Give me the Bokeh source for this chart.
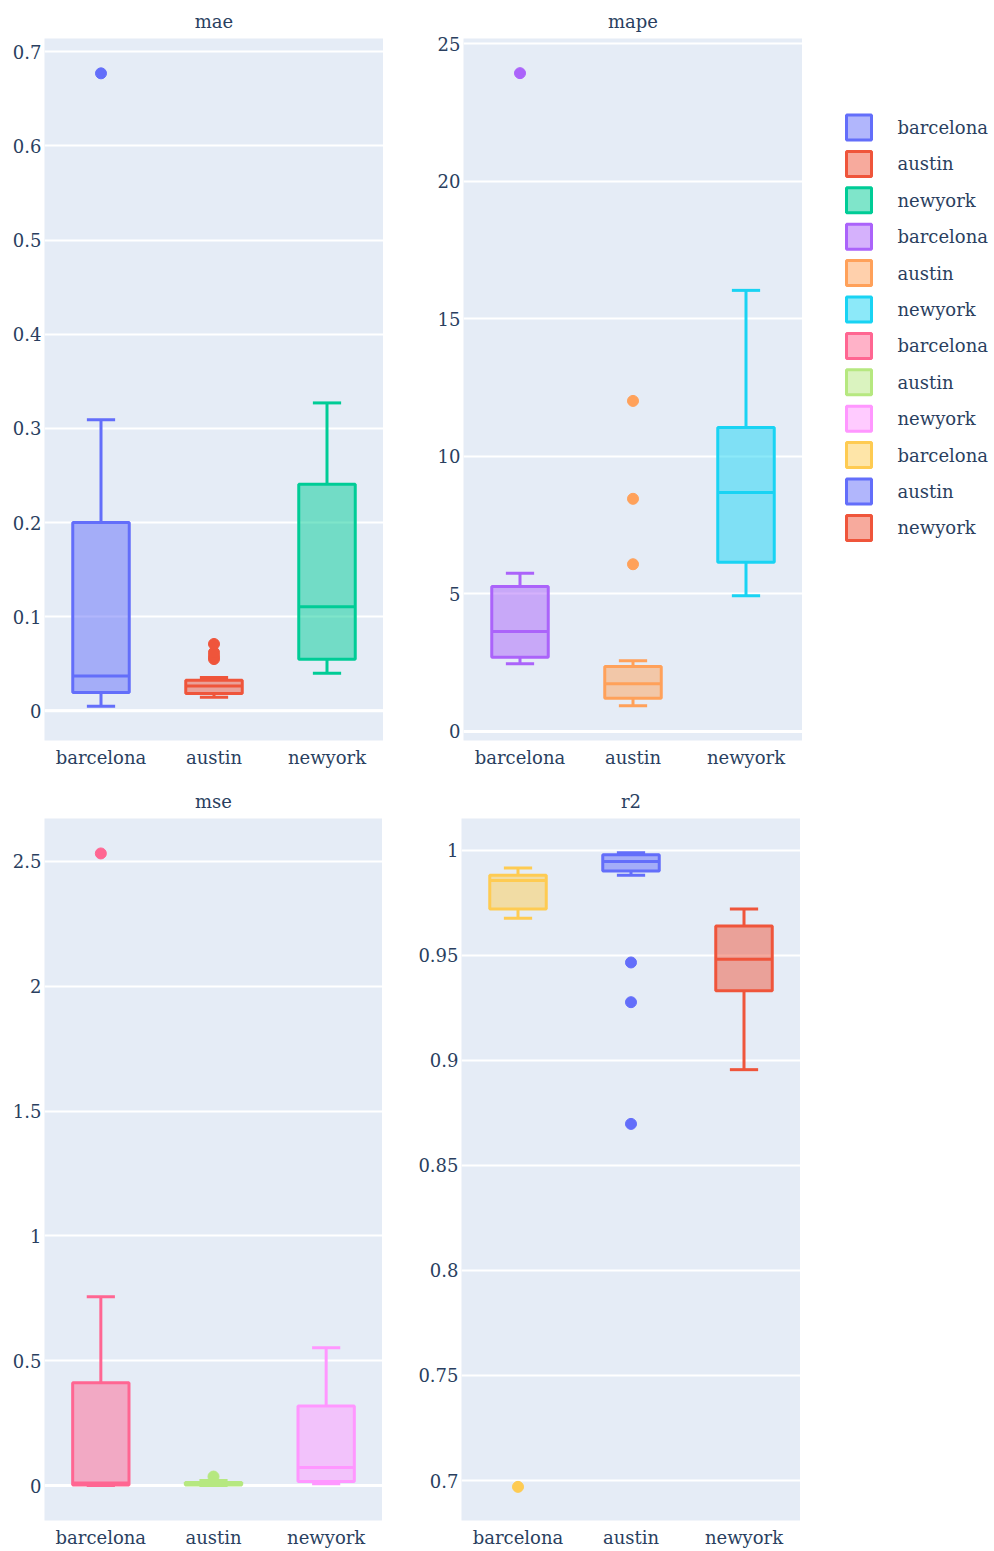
from bokeh.plotting import figure
from bokeh.models import (ColumnDataSource, FactorRange, Range1d, Span,
                          SingleIntervalTicker, NumeralTickFormatter)
from bokeh.core.properties import value
from bokeh.layouts import row, column
from bokeh.embed import file_html
from bokeh.resources import INLINE

# ---- data -----------------------------------------------------------------
cities = ["barcelona", "austin", "newyork"]

# box statistics per city: lower whisker, Q1, median, Q3, upper whisker
mae_lower = [0.005, 0.0145, 0.040]
mae_q1 = [0.0195, 0.0185, 0.0548]
mae_median = [0.037, 0.0265, 0.1106]
mae_q3 = [0.200, 0.0325, 0.2407]
mae_upper = [0.309, 0.0355, 0.327]
mae_outliers = [[0.677], [0.055, 0.058, 0.062, 0.071], []]

mape_lower = [2.46, 0.93, 4.93]
mape_q1 = [2.70, 1.21, 6.15]
mape_median = [3.63, 1.73, 8.69]
mape_q3 = [5.27, 2.36, 11.05]
mape_upper = [5.75, 2.57, 16.04]
mape_outliers = [[23.94], [6.08, 8.46, 12.02], []]

mse_lower = [0.0005, 0.0005, 0.007]
mse_q1 = [0.002, 0.002, 0.016]
mse_median = [0.010, 0.006, 0.072]
mse_q3 = [0.412, 0.012, 0.319]
mse_upper = [0.756, 0.020, 0.552]
mse_outliers = [[2.532], [0.036], []]

r2_lower = [0.9676, 0.988, 0.8955]
r2_q1 = [0.972, 0.990, 0.933]
r2_median = [0.9855, 0.9945, 0.948]
r2_q3 = [0.988, 0.9978, 0.9638]
r2_upper = [0.9914, 0.9987, 0.972]
r2_outliers = [[0.697], [0.9465, 0.9276, 0.8697], []]

mae_colors = ["#636EFA", "#EF553B", "#00CC96"]
mape_colors = ["#AB63FA", "#FFA15A", "#19D3F3"]
mse_colors = ["#FF6692", "#B6E880", "#FF97FF"]
r2_colors = ["#FECB52", "#636EFA", "#EF553B"]

# ---- styling --------------------------------------------------------------
FONT = "DejaVu Serif"
FONT_SIZE = "18px"
TEXT_COLOR = "#2a3f5f"
BG = "#E5ECF6"
BOX_W = 0.5
CAP = 0.125
LW = 3


def panel(title, lo, hi, interval, stats, outliers, colors,
          width, height, left, top, bottom, zero_line):
    lower, q1, med, q3, upper = stats
    p = figure(x_range=FactorRange(factors=cities, range_padding=0),
               y_range=Range1d(lo, hi), width=width, height=height,
               title=title, output_backend="svg", toolbar_location=None,
               min_border_left=left, min_border_right=0,
               min_border_top=top, min_border_bottom=bottom)
    p.background_fill_color = BG
    p.border_fill_color = "white"
    p.outline_line_color = None

    p.title.align = "center"
    p.title.text_font = FONT
    p.title.text_font_size = FONT_SIZE
    p.title.text_font_style = "normal"
    p.title.text_color = TEXT_COLOR
    p.title.standoff = 13

    p.xgrid.visible = False
    p.ygrid.grid_line_color = "white"
    p.ygrid.grid_line_width = 2
    p.yaxis.ticker = SingleIntervalTicker(interval=interval, num_minor_ticks=0)
    p.yaxis.formatter = NumeralTickFormatter(format="0.[00]")
    for ax in (p.xaxis[0], p.yaxis[0]):
        ax.axis_line_color = None
        ax.major_tick_line_color = None
        ax.minor_tick_line_color = None
        ax.major_tick_out = 0
        ax.major_label_text_font = FONT
        ax.major_label_text_font_size = FONT_SIZE
        ax.major_label_text_color = TEXT_COLOR
    p.yaxis.major_label_standoff = 3
    p.xaxis.major_label_standoff = 6

    if zero_line:
        p.add_layout(Span(location=0, dimension="width",
                          line_color="white", line_width=3, level="underlay"))

    src = ColumnDataSource(dict(
        x=cities, lower=lower, q1=q1, med=med, q3=q3, upper=upper,
        color=colors,
        cap0=[(c, -CAP) for c in cities], cap1=[(c, CAP) for c in cities],
        m0=[(c, -BOX_W / 2) for c in cities], m1=[(c, BOX_W / 2) for c in cities],
    ))
    # whisker stems
    p.segment(x0="x", y0="q3", x1="x", y1="upper", source=src,
              line_color="color", line_width=LW)
    p.segment(x0="x", y0="q1", x1="x", y1="lower", source=src,
              line_color="color", line_width=LW)
    # whisker caps
    p.segment(x0="cap0", y0="upper", x1="cap1", y1="upper", source=src,
              line_color="color", line_width=LW)
    p.segment(x0="cap0", y0="lower", x1="cap1", y1="lower", source=src,
              line_color="color", line_width=LW)
    # boxes
    p.vbar(x="x", bottom="q1", top="q3", width=BOX_W, source=src,
           fill_color="color", fill_alpha=0.5, line_color="color",
           line_width=LW)
    # medians
    p.segment(x0="m0", y0="med", x1="m1", y1="med", source=src,
              line_color="color", line_width=LW)
    # outliers
    ox, oy, oc = [], [], []
    for c, col, vals in zip(cities, colors, outliers):
        for v in vals:
            ox.append(c)
            oy.append(v)
            oc.append(col)
    p.scatter(x=ox, y=oy, color=oc, size=11, marker="circle")
    return p


p1 = panel("mae", -0.0315, 0.714, 0.1,
           (mae_lower, mae_q1, mae_median, mae_q3, mae_upper),
           mae_outliers, mae_colors, 383, 780, 44, 38, 40, True)
p2 = panel("mape", -0.33, 25.2, 5,
           (mape_lower, mape_q1, mape_median, mape_q3, mape_upper),
           mape_outliers, mape_colors, 419, 780, 80, 38, 40, True)
p3 = panel("mse", -0.14, 2.672, 0.5,
           (mse_lower, mse_q1, mse_median, mse_q3, mse_upper),
           mse_outliers, mse_colors, 382, 771, 44, 38, 31, True)
p4 = panel("r2", 0.681, 1.015, 0.05,
           (r2_lower, r2_q1, r2_median, r2_q3, r2_upper),
           r2_outliers, r2_colors, 418, 771, 79, 38, 31, False)

# ---- legend: one swatch + label per trace, in page-pixel units -------------
leg = figure(width=192, height=780, output_backend="svg", toolbar_location=None,
             x_range=Range1d(802, 994), y_range=Range1d(740, 38),
             min_border_left=0, min_border_right=0,
             min_border_top=38, min_border_bottom=40)
leg.axis.visible = False
leg.grid.visible = False
leg.outline_line_color = None
leg.background_fill_color = "white"
leg.border_fill_color = "white"

leg_labels = cities * 4
leg_colors = mae_colors + mape_colors + mse_colors + r2_colors
ROW0, ROW_STEP = 127, 36.4
leg_src = ColumnDataSource(dict(
    label=leg_labels, color=leg_colors,
    y=[ROW0 + ROW_STEP * i for i in range(len(leg_labels))],
))
leg.scatter(x=858.5, y="y", source=leg_src, marker="square", size=25,
            fill_color="color", fill_alpha=0.5, line_color="color",
            line_width=LW)
leg.text(x=897, y="y", text="label", source=leg_src,
         text_font=value(FONT), text_font_size=FONT_SIZE,
         text_color=TEXT_COLOR, text_baseline="middle", text_align="left")

layout = column(row(p1, p2, leg), row(p3, p4))

with open("out.html", "w") as f:
    f.write(file_html(layout, INLINE))
